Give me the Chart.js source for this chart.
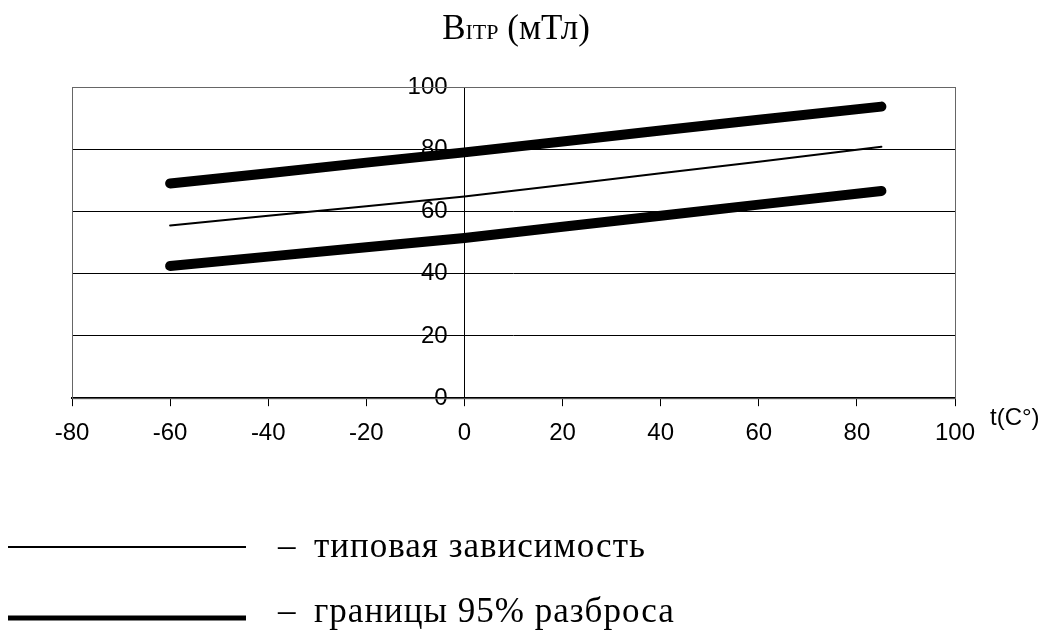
<!DOCTYPE html>
<html lang="ru">
<head>
<meta charset="utf-8">
<title>B ITP (мТл)</title>
<script src="https://cdn.jsdelivr.net/npm/chart.js@4/dist/chart.umd.min.js"></script>
<style>
  html, body { margin: 0; padding: 0; background: #fff; }
  #wrap { width: 1038px; height: 632px; position: relative; }
</style>
</head>
<body>
<div id="wrap"><canvas id="fieldChart"></canvas></div>
<script>
// temperature points, deg C
const temps = [-60, -40, -20, 0, 20, 40, 60, 85];
// B, mT
const typical = [55.5, 58.6, 61.7, 64.8, 68.5, 72.3, 76.0, 80.8];
const upperBound = [69.0, 72.3, 75.7, 79.0, 82.5, 86.0, 89.5, 93.7];
const lowerBound = [42.5, 45.5, 48.5, 51.5, 55.1, 58.6, 62.2, 66.6];

const xTicks = [-80, -60, -40, -20, 0, 20, 40, 60, 80, 100];
const yTicks = [0, 20, 40, 60, 80, 100];

const legendLabels = ['типовая зависимость', 'границы 95% разброса'];

const sans = '"Liberation Sans", Arial, sans-serif';
const serif = '"Liberation Serif", "Times New Roman", serif';

const toPoints = ys => temps.map((t, i) => ({ x: t, y: ys[i] }));

const lineStyle = width => ({
  borderColor: '#000',
  borderWidth: width,
  borderCapStyle: 'round',
  borderJoinStyle: 'round',
  pointRadius: 0,
  fill: false,
  tension: 0
});

// frame round the plot area
const framePlugin = {
  id: 'frame',
  beforeDatasetsDraw(chart) {
    const { ctx, chartArea: a } = chart;
    ctx.save();
    ctx.strokeStyle = '#666';
    ctx.lineWidth = 1;
    ctx.strokeRect(a.left + 0.5, a.top + 0.5, a.right - a.left, a.bottom - a.top);
    ctx.restore();
  }
};

// title with subscript, axis name and the legend under the chart
const textPlugin = {
  id: 'texts',
  afterDraw(chart) {
    const { ctx, chartArea: a } = chart;
    ctx.save();
    ctx.fillStyle = '#000';
    ctx.textBaseline = 'alphabetic';

    // B_ITP (мТл)
    const big = '35px ' + serif, small = '22px ' + serif;
    ctx.font = big;
    const wB = ctx.measureText('B').width;
    const wTail = ctx.measureText(' (мТл)').width;
    ctx.font = small;
    const wSub = ctx.measureText('ITP').width;
    let x = 516 - (wB + wSub + wTail) / 2;
    const y = 39;
    ctx.font = big;
    ctx.fillText('B', x, y);
    x += wB;
    ctx.font = small;
    ctx.fillText('ITP', x, y);
    x += wSub;
    ctx.font = big;
    ctx.fillText(' (мТл)', x, y);

    // x axis name
    ctx.font = '24px ' + sans;
    ctx.textBaseline = 'middle';
    ctx.textAlign = 'left';
    ctx.fillText('t(C°)', a.right + 35, a.bottom + 20);

    // legend
    const rows = [
      { y: 547, width: 2, label: legendLabels[0], base: 557 },
      { y: 618, width: 5, label: legendLabels[1], base: 622 }
    ];
    ctx.textBaseline = 'alphabetic';
    ctx.font = '35px ' + serif;
    rows.forEach(r => {
      ctx.strokeStyle = '#000';
      ctx.lineWidth = r.width;
      ctx.beginPath();
      ctx.moveTo(8, r.y);
      ctx.lineTo(246, r.y);
      ctx.stroke();
      ctx.letterSpacing = '0px';
      ctx.fillText('–', 278, r.base);
      ctx.letterSpacing = '1px';
      ctx.fillText(r.label, 314, r.base);
    });
    ctx.restore();
  }
};

new Chart(document.getElementById('fieldChart'), {
  type: 'line',
  data: {
    datasets: [
      { label: legendLabels[0], data: toPoints(typical), ...lineStyle(2) },
      { label: legendLabels[1], data: toPoints(upperBound), ...lineStyle(10) },
      { label: legendLabels[1] + ' ', data: toPoints(lowerBound), ...lineStyle(10) }
    ]
  },
  options: {
    responsive: true,
    maintainAspectRatio: false,
    animation: false,
    layout: { padding: { left: 72, right: 83, top: 87, bottom: 171 } },
    plugins: {
      legend: { display: false },
      title: { display: false },
      tooltip: { enabled: false }
    },
    scales: {
      x: {
        type: 'linear',
        min: xTicks[0],
        max: xTicks[xTicks.length - 1],
        afterBuildTicks: s => { s.ticks = xTicks.map(v => ({ value: v })); },
        grid: { drawOnChartArea: false, drawTicks: true, tickLength: 8, color: '#000', lineWidth: 1 },
        border: { display: true, color: '#000', width: 2 },
        ticks: { color: '#000', padding: 13, maxRotation: 0, font: { family: sans, size: 24 } }
      },
      y: {
        type: 'linear',
        position: { x: 0 },
        min: yTicks[0],
        max: yTicks[yTicks.length - 1],
        afterBuildTicks: s => { s.ticks = yTicks.map(v => ({ value: v })); },
        grid: {
          drawTicks: false,
          color: ctx => (ctx.tick && ctx.tick.value === 0) ? 'rgba(0,0,0,0)' : '#000',
          lineWidth: 1
        },
        border: { display: true, color: '#000', width: 1 },
        // labels sit left of the centred axis; the en + thin space keep them off the line
        ticks: { color: '#000', padding: 0, font: { family: sans, size: 24 }, callback: v => v + '\u2002\u2009' }
      }
    }
  },
  plugins: [framePlugin, textPlugin]
});
</script>
</body>
</html>
